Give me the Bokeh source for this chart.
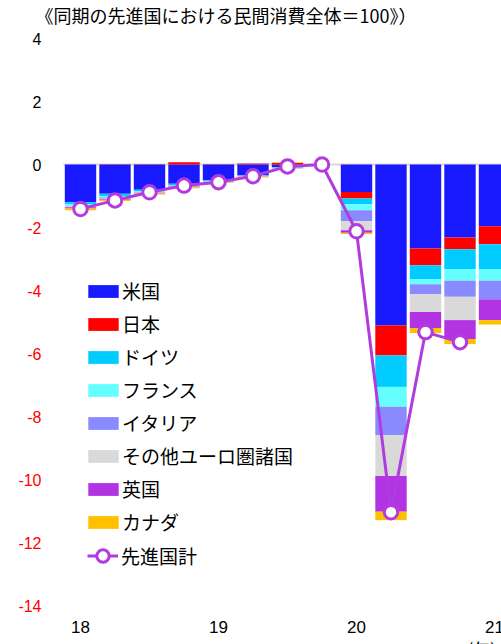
import numpy as np
from bokeh.plotting import figure
from bokeh.models import Range1d, Legend, LegendItem, ColumnDataSource
from bokeh.core.properties import value
from bokeh.embed import file_html
from bokeh.resources import INLINE

# Quarterly contributions (pt) to the change in private consumption of advanced economies
quarters = ["2018Q1", "2018Q2", "2018Q3", "2018Q4",
            "2019Q1", "2019Q2", "2019Q3", "2019Q4",
            "2020Q1", "2020Q2", "2020Q3", "2020Q4", "2021Q1"]

us      = [-1.20, -0.93, -0.80, -0.61, -0.50, -0.35, -0.09, 0.00, -0.87, -5.11, -2.67, -2.32, -1.96]
japan   = [ 0.00,  0.01,  0.01,  0.07,  0.01,  0.03,  0.05, 0.00, -0.21, -0.95, -0.53, -0.37, -0.57]
germany = [-0.06, -0.07, -0.04, -0.04, -0.02, -0.01, -0.01, 0.00, -0.18, -1.00, -0.44, -0.63, -0.79]
france  = [-0.05, -0.05, -0.03, -0.02, -0.02, -0.01, -0.01, 0.00, -0.19, -0.63, -0.16, -0.37, -0.37]
italy   = [-0.02, -0.02, -0.01, -0.01,  0.00,  0.02,  0.00, 0.00, -0.35, -0.90, -0.32, -0.51, -0.59]
other_euro = [-0.03, -0.02, -0.02, -0.02, -0.01, -0.01, -0.01, 0.00, -0.29, -1.30, -0.56, -0.74, 0.00]
uk      = [-0.04, -0.03, -0.02, -0.02, -0.01, -0.01, -0.01, 0.00, -0.08, -1.13, -0.51, -0.60, -0.66]
canada  = [-0.05, -0.04, -0.03, -0.03, -0.02, -0.02,  0.02, 0.00, -0.04, -0.27, -0.16, -0.16, -0.14]

# Advanced-economy total (line), available through 2020Q4
total = [-1.41, -1.14, -0.88, -0.67, -0.56, -0.37, -0.06, 0.00, -2.12, -11.04, -5.32, -5.64]

series_names = ["米国", "日本", "ドイツ", "フランス", "イタリア", "その他ユーロ圏諸国", "英国", "カナダ"]
series_colors = ["#1919FF", "#FF0000", "#00CCFF", "#66FFFF", "#8A8AFF", "#D9D9D9", "#B233E2", "#FFC000"]
total_name = "先進国計"
total_color = "#B23BE0"

y_ticks = [4, 2, 0, -2, -4, -6, -8, -10, -12, -14]
year_tick_pos = [0, 4, 8, 12]
year_labels = ["18", "19", "20", "21"]
title_text = "《同期の先進国における民間消費全体＝100》）"
unit_text = "(年)"

# ---- canvas geometry (pixels) ----
W, H = 501, 644
X0_PX, STEP_PX = 80.0, 34.5      # centre of first quarter, spacing per quarter
Y0_PX, UNIT_PX = 164.0, 31.5     # pixel row of zero, pixels per point


def px_x(px):
    return (px - X0_PX) / STEP_PX


def px_y(py):
    return (Y0_PX - py) / UNIT_PX


p = figure(width=W, height=H, output_backend="svg", toolbar_location=None,
           x_range=Range1d(px_x(0), px_x(W)), y_range=Range1d(px_y(H), px_y(0)),
           x_axis_location=None, y_axis_location=None, min_border=0,
           background_fill_color="white", border_fill_color="white")
p.outline_line_color = None
p.grid.visible = False

JP_FONT = value("Noto Sans CJK JP")
NUM_FONT = value("Liberation Sans")

x = np.arange(len(quarters), dtype=float)

# zero baseline
p.segment(x0=[x[0] - 0.5], x1=[x[-1] + 0.5], y0=[0], y1=[0],
          line_color="#D9D9D9", line_width=2)

# stacked bars: negative parts stack downward, positive parts upward
neg_base = np.zeros(len(x))
pos_base = np.zeros(len(x))
bar_renderers = []
for vals, color in zip([us, japan, germany, france, italy, other_euro, uk, canada], series_colors):
    v = np.array(vals, dtype=float)
    bottom = np.where(v < 0, neg_base + v, pos_base)
    top = np.where(v < 0, neg_base, pos_base + v)
    neg_base = neg_base + np.minimum(v, 0)
    pos_base = pos_base + np.maximum(v, 0)
    src = ColumnDataSource(dict(x=x, top=top, bottom=bottom))
    r = p.vbar(x="x", top="top", bottom="bottom", width=0.91, source=src,
               fill_color=color, line_color=None)
    bar_renderers.append(r)

# total line with hollow markers
tx = x[:len(total)]
line_r = p.line(tx, total, line_color=total_color, line_width=3)
mark_r = p.scatter(tx, total, marker="circle", size=13.5, fill_color="white",
                   line_color=total_color, line_width=3)

# y tick labels (negative values in red)
p.text(x=[px_x(41)] * len(y_ticks), y=y_ticks, text=[str(t) for t in y_ticks],
       text_align="right", text_baseline="middle",
       text_color=["#FF0000" if t < 0 else "#000000" for t in y_ticks],
       text_font=NUM_FONT, text_font_size="16px")

# year labels
p.text(x=year_tick_pos, y=[px_y(626)] * len(year_tick_pos), text=year_labels,
       text_align="center", text_baseline="middle", text_color="#000000",
       text_font=NUM_FONT, text_font_size="17px")

# unit label and title
p.text(x=[px_x(467)], y=[px_y(648)], text=[unit_text], text_align="left",
       text_baseline="middle", text_color="#000000", text_font=JP_FONT,
       text_font_size="17px")
p.text(x=[px_x(35)], y=[px_y(14)], text=[title_text], text_align="left",
       text_baseline="middle", text_color="#000000", text_font=JP_FONT,
       text_font_size="18px")

# legends: bar swatches and the total line
leg_bars = Legend(items=[LegendItem(label=n, renderers=[r]) for n, r in zip(series_names, bar_renderers)],
                  location=(84, 109), glyph_width=38, glyph_height=16, label_standoff=0,
                  label_height=20, spacing=6, padding=0, margin=0,
                  background_fill_alpha=0, border_line_color=None,
                  label_text_font="Noto Sans CJK JP", label_text_font_size="19px",
                  label_text_color="#000000")
leg_total = Legend(items=[LegendItem(label=total_name, renderers=[line_r, mark_r])],
                   location=(87, 72), glyph_width=31, glyph_height=33, label_standoff=3,
                   label_height=20, spacing=0, padding=0, margin=0,
                   background_fill_alpha=0, border_line_color=None,
                   label_text_font="Noto Sans CJK JP", label_text_font_size="19px",
                   label_text_color="#000000")
p.add_layout(leg_bars)
p.add_layout(leg_total)

open("out.html", "w").write(file_html(p, INLINE))
